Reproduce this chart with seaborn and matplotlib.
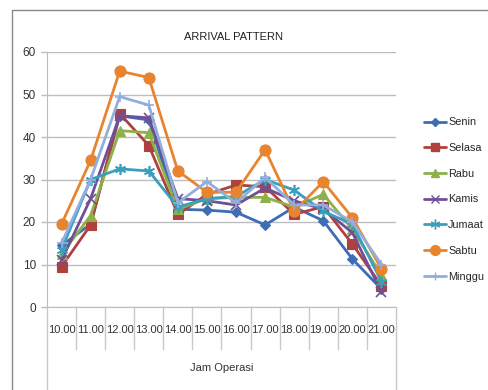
import matplotlib
matplotlib.use("Agg")
import matplotlib.pyplot as plt
from matplotlib.lines import Line2D
import seaborn as sns
import pandas as pd

# ── data ──────────────────────────────────────────────────────────
jam = ['10.00', '11.00', '12.00', '13.00', '14.00', '15.00',
       '16.00', '17.00', '18.00', '19.00', '20.00', '21.00']
hari = ['Senin', 'Selasa', 'Rabu', 'Kamis', 'Jumaat', 'Sabtu', 'Minggu']

senin  = [14.5, 19.5, 45.0, 44.0, 23.0, 22.8, 22.3, 19.3, 23.5, 20.3, 11.3, 4.2]
selasa = [9.5, 19.3, 45.5, 38.0, 21.8, 26.5, 28.7, 28.3, 21.8, 23.6, 14.8, 5.0]
rabu   = [12.5, 21.5, 41.5, 41.0, 23.0, 25.5, 25.8, 25.8, 23.5, 26.5, 18.3, 7.5]
kamis  = [11.0, 25.5, 45.0, 44.5, 25.5, 25.0, 24.0, 28.0, 25.0, 23.0, 17.5, 3.5]
jumaat = [13.5, 30.0, 32.5, 32.0, 23.5, 25.5, 26.0, 30.0, 27.5, 22.5, 19.5, 6.0]
sabtu  = [19.5, 34.5, 55.5, 54.0, 32.0, 27.0, 27.0, 37.0, 22.5, 29.5, 21.0, 9.0]
minggu = [15.0, 30.0, 49.5, 47.5, 24.5, 29.5, 24.5, 30.5, 24.0, 24.0, 20.0, 10.0]

series = [senin, selasa, rabu, kamis, jumaat, sabtu, minggu]
df = pd.DataFrame({
    'x': list(range(len(jam))) * len(hari),
    'nilai': sum(series, []),
    'hari': [h for h in hari for _ in jam],
})

warna = ['#3d6db3', '#b0403d', '#8db04a', '#6f4f96', '#3a9fbd', '#e8842e', '#94aedb']
penanda = {'Senin': 'D', 'Selasa': 's', 'Rabu': '^', 'Kamis': 'x',
           'Jumaat': (6, 2, 0), 'Sabtu': 'o', 'Minggu': '+'}
ukuran = {'Senin': 5, 'Selasa': 7, 'Rabu': 7, 'Kamis': 7,
          'Jumaat': 8, 'Sabtu': 8, 'Minggu': 7}

sns.set_style('white')
plt.rcParams['font.family'] = ['Liberation Sans', 'DejaVu Sans']

W, H = 488, 390
fig = plt.figure(figsize=(W / 100, H / 100), dpi=100)
ax = fig.add_axes([47 / W, 1 - 307 / H, (396 - 47) / W, (307 - 52) / H])

sns.lineplot(data=df, x='x', y='nilai', hue='hari', hue_order=hari,
             palette=dict(zip(hari, warna)), linewidth=2.0, legend=False,
             sort=False, ax=ax, zorder=3)

for line, h in zip(ax.lines, hari):
    line.set_marker(penanda[h])
    line.set_markeredgecolor(line.get_color())
    line.set_markerfacecolor(line.get_color())
    line.set_markersize(ukuran[h])
    line.set_markeredgewidth(1.2 if h in ('Kamis', 'Jumaat', 'Minggu') else 0.8)

ax.set_xlim(-0.5, len(jam) - 0.5)
ax.set_ylim(0, 60)
ax.set_yticks(range(0, 61, 10))
ax.yaxis.grid(True, color='#bdbdbd', linewidth=1)
ax.set_xticks(range(len(jam)))
ax.set_xticklabels(jam, fontsize=8.0, color='#333333')
ax.tick_params(axis='x', length=0, pad=13)
ax.tick_params(axis='y', labelsize=8.5, labelcolor='#333333', length=4,
               color='#bdbdbd', width=1, left=True, pad=4)
ax.set_xlabel('Jam Operasi', fontsize=8, color='#333333', labelpad=20)
ax.set_ylabel('')
for side in ['top', 'right']:
    ax.spines[side].set_visible(False)
ax.spines['left'].set_color('#bdbdbd')
ax.spines['bottom'].set_color('#bdbdbd')

# category separators reaching below the axis
for b in range(len(jam) + 1):
    x = b - 0.5
    bawah = -0.33 if b in (0, len(jam)) else -0.165
    ax.plot([x, x], [0, bawah], transform=ax.get_xaxis_transform(),
            color='#c8c8c8', linewidth=1, clip_on=False, zorder=1)

# chart border
fig.add_artist(Line2D([12 / W, 1], [1 - 10 / H, 1 - 10 / H], color='#8a8a8a', linewidth=1))
fig.add_artist(Line2D([12 / W, 12 / W], [0, 1 - 10 / H], color='#8a8a8a', linewidth=1))

fig.text(233 / W, 1 - 37 / H, 'ARRIVAL PATTERN', ha='center', va='center',
         fontsize=8, color='#222222')

handles = [Line2D([], [], color=c, marker=penanda[h], markersize=ukuran[h] - 1,
                  markeredgecolor=c, linewidth=2.0) for h, c in zip(hari, warna)]
fig.legend(handles, hari, loc='upper left', bbox_to_anchor=(420 / W, 1 - 113 / H),
           frameon=False, fontsize=7.8, handlelength=2.0, handletextpad=0.2,
           labelspacing=1.45, borderaxespad=0)

fig.savefig('out.png', dpi=100)
